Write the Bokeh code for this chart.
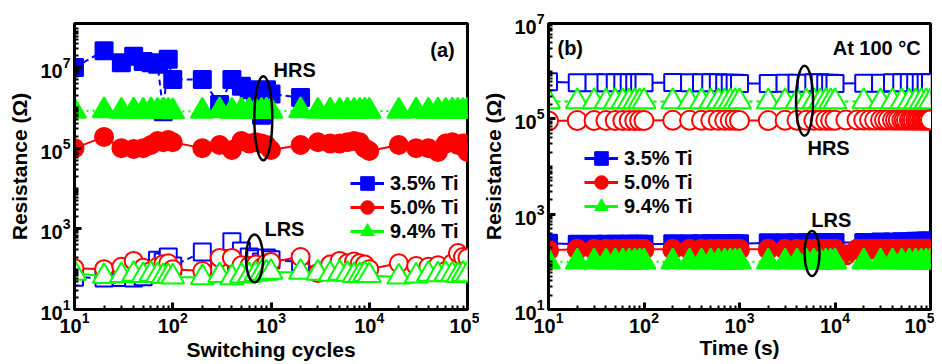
from bokeh.plotting import figure
from bokeh.layouts import row
from bokeh.models import Range1d, FixedTicker, Legend, LegendItem, Label
from bokeh.embed import file_html
from bokeh.resources import INLINE

# ---------------- data: panel (a) resistance vs switching cycles ----------------
cycles = [10, 20, 30, 40, 50, 60, 70, 80, 90,
          100, 200, 300, 400, 500, 600, 700, 800, 900,
          1000, 2000, 3000, 4000, 5000, 6000, 7000, 8000, 9000,
          10000, 20000, 30000, 40000, 50000, 60000, 70000, 80000, 90000, 100000]
cycles_35 = [10, 20, 30, 40, 50, 60, 70, 80, 90,
             100, 200, 300, 400, 500, 600, 700, 800, 900, 1000, 2000]

hrs_35_a = [1.0e7, 2.6e7, 1.3e7, 1.9e7, 1.4e7, 1.3e7, 1.2e7, 8.0e5, 1.6e7,
            5.0e6, 5.0e6, 1.2e6, 5.0e6, 3.4e6, 2.8e6, 1.9e6, 6.5e5, 2.8e6, 2.2e6, 1.8e6]
hrs_50_a = [1.0e5, 1.9e5, 1.0e5, 9.5e4, 1.0e5, 1.2e5, 1.5e5, 1.4e5, 1.6e5,
            1.4e5, 1.0e5, 1.2e5, 9.0e4, 1.5e5, 1.3e5, 1.4e5, 1.3e5, 1.2e5,
            9.0e4, 1.2e5, 1.4e5, 1.3e5, 1.3e5, 1.4e5, 1.5e5, 1.4e5, 1.0e5,
            8.5e4, 1.2e5, 1.0e5, 1.0e5, 8.0e4, 1.3e5, 1.4e5, 1.2e5, 1.3e5, 8.0e4]
hrs_94_a = [8.3e5, 8.5e5, 8.3e5, 8.4e5, 8.3e5, 8.5e5, 8.3e5, 8.4e5, 8.3e5,
            8.1e5, 8.3e5, 8.5e5, 8.3e5, 8.4e5, 8.3e5, 8.2e5, 8.3e5, 8.4e5,
            8.3e5, 8.5e5, 8.3e5, 8.4e5, 8.3e5, 8.4e5, 8.3e5, 8.3e5, 8.4e5,
            8.3e5, 8.3e5, 8.4e5, 8.3e5, 8.4e5, 8.3e5, 8.4e5, 8.3e5, 8.3e5, 8.4e5]
lrs_35_a = [63, 60, 62, 60, 65, 100, 167, 150, 200,
            120, 265, 110, 475, 280, 200, 180, 150, 190, 170, 150]
lrs_50_a = [105, 100, 115, 160, 108, 90, 115, 133, 140,
            100, 90, 190, 190, 125, 120, 130, 110, 140,
            150, 200, 80, 130, 160, 140, 155, 140, 130,
            100, 140, 120, 115, 125, 90, 140, 250, 200, 190]
lrs_94_a = [80, 66, 70, 75, 70, 75, 70, 66, 66,
            64, 62, 70, 62, 68, 70, 75, 80, 80,
            84, 84, 80, 75, 80, 75, 70, 70, 75,
            70, 64, 68, 75, 73, 75, 73, 70, 75, 73]

# ---------------- data: panel (b) retention at 100 C ----------------
time_s = [10, 20, 30, 40, 50, 60, 70, 80, 90,
          100, 200, 300, 400, 500, 600, 700, 800, 900,
          1000, 2000, 3000, 4000, 5000, 6000, 7000, 8000, 9000,
          10000, 20000, 30000, 40000, 50000, 60000, 70000, 80000, 90000, 100000]
time_s_50 = [10, 20, 30, 40, 50, 60, 70, 80, 90,
             100, 200, 300, 400, 500, 600, 700, 800, 900,
             1000, 2000, 3000, 4000, 5000, 6000, 7000, 8000, 9000, 10000,
             13000, 17000, 20000, 23000, 26000, 30000, 33000, 36000, 40000,
             43000, 46000, 50000, 53000, 56000, 60000, 63000, 66000, 70000,
             73000, 76000, 80000, 83000, 86000, 90000, 93000, 96000, 100000]

hrs_35_b = [6.0e5, 5.7e5, 5.7e5, 5.7e5, 5.7e5, 5.7e5, 5.7e5, 5.7e5, 5.7e5,
            5.7e5, 5.8e5, 5.7e5, 5.7e5, 5.7e5, 5.7e5, 5.6e5, 5.6e5, 5.6e5,
            5.5e5, 5.5e5, 5.6e5, 5.6e5, 5.6e5, 5.7e5, 5.7e5, 5.6e5, 5.6e5,
            5.5e5, 5.6e5, 5.6e5, 5.7e5, 5.7e5, 5.7e5, 5.7e5, 5.7e5, 5.7e5, 5.7e5]
hrs_50_b = [9.0e4, 9.2e4, 9.2e4, 9.2e4, 9.2e4, 9.2e4, 9.2e4, 9.2e4, 9.2e4,
            9.2e4, 9.3e4, 9.3e4, 9.3e4, 9.3e4, 9.3e4, 9.3e4, 9.3e4, 9.3e4,
            9.2e4, 9.2e4, 9.3e4, 9.3e4, 9.3e4, 9.3e4, 9.3e4, 9.3e4, 9.3e4, 9.3e4,
            9.5e4, 9.5e4, 9.5e4, 9.4e4, 9.4e4, 9.4e4, 9.4e4, 9.4e4, 9.4e4,
            9.4e4, 9.4e4, 9.4e4, 9.4e4, 9.4e4, 9.4e4, 9.4e4, 9.4e4, 9.4e4,
            9.4e4, 9.4e4, 9.4e4, 9.4e4, 9.4e4, 9.4e4, 9.4e4, 9.4e4, 9.4e4]
hrs_94_b = [2.3e5, 2.3e5, 2.3e5, 2.3e5, 2.3e5, 2.3e5, 2.3e5, 2.3e5, 2.3e5,
            2.3e5, 2.3e5, 2.3e5, 2.3e5, 2.3e5, 2.3e5, 2.3e5, 2.3e5, 2.3e5,
            2.3e5, 2.3e5, 2.3e5, 2.3e5, 2.3e5, 2.3e5, 2.3e5, 2.3e5, 2.3e5,
            2.3e5, 2.3e5, 2.3e5, 2.3e5, 2.3e5, 2.3e5, 2.3e5, 2.3e5, 2.3e5, 2.3e5]
lrs_35_b = [245, 235, 235, 235, 235, 235, 235, 235, 235,
            235, 240, 240, 240, 240, 240, 240, 240, 240,
            240, 250, 250, 250, 250, 250, 255, 255, 255,
            255, 255, 260, 260, 265, 265, 270, 270, 275, 275]
lrs_50_b = [175, 183, 183, 183, 183, 183, 183, 183, 183,
            183, 183, 183, 183, 183, 183, 183, 183, 183,
            183, 183, 183, 183, 183, 183, 183, 183, 183, 183,
            140, 183, 183, 183, 183, 183, 183, 183, 183,
            183, 183, 183, 183, 183, 183, 183, 183, 183,
            183, 183, 183, 183, 183, 183, 183, 183, 183]
lrs_94_b = [100, 100, 100, 100, 100, 100, 100, 100, 100,
            100, 100, 100, 100, 100, 100, 100, 100, 100,
            100, 100, 100, 100, 100, 100, 100, 100, 100,
            100, 100, 100, 100, 100, 100, 100, 100, 100, 100]

series_labels = ["3.5% Ti", "5.0% Ti", "9.4% Ti"]
x_ticks = [10, 100, 1000, 10000, 100000]
y_ticks = [10, 1000, 100000, 10000000]

# annotation anchors (data coordinates)
a_notes = [("(a)", 5.56e4, 2.7e7, "center"), ("HRS", 1740, 8.5e6, "center"),
           ("LRS", 1370, 970, "center")]
b_notes = [("(b)", 16.9, 3.1e6, "center"), ("At 100 \u00b0C", 7.9e4, 3.1e6, "right"),
           ("HRS", 8560, 2.5e4, "center"), ("LRS", 9150, 745, "center")]
a_ellipses = [(835, 5.5e5, 18, 84), (680, 185, 17, 48)]
b_ellipses = [(4800, 2.4e5, 17, 70), (5750, 150, 15, 45)]

FONT = "Liberation Sans"
BLUE, RED, GREEN = "#0000FF", "#FF0000", "#00FF00"

minor_x = [m * 10 ** d for d in range(1, 5) for m in range(2, 10)]
minor_y = [m * 10 ** d for d in range(1, 8) for m in range(1, 10) if not (m == 1 and d % 2 == 1)]

NAN = float("nan")


def make_fig(y_top, b_left, b_right, width, xlabel, xlab_standoff):
    p = figure(x_axis_type="log", y_axis_type="log",
               x_range=Range1d(10, 1e5), y_range=Range1d(10, y_top),
               width=width, height=364, output_backend="svg", toolbar_location=None,
               min_border_left=b_left, min_border_right=b_right,
               min_border_top=23, min_border_bottom=55)
    p.grid.visible = False
    p.outline_line_color = "black"
    p.outline_line_width = 3
    p.outline_line_alpha = 1
    p.xaxis.ticker = FixedTicker(ticks=x_ticks, minor_ticks=minor_x)
    p.yaxis.ticker = FixedTicker(ticks=y_ticks, minor_ticks=minor_y)
    for ax in [p.xaxis[0], p.yaxis[0]]:
        ax.axis_line_width = 3
        ax.major_tick_in = 7
        ax.major_tick_out = 0
        ax.minor_tick_in = 4
        ax.minor_tick_out = 0
        ax.major_tick_line_width = 3
        ax.minor_tick_line_width = 2
        ax.major_label_text_font = FONT
        ax.major_label_text_font_size = "20px"
        ax.major_label_text_font_style = "bold"
        ax.major_label_text_color = "black"
        ax.axis_label_text_font = FONT
        ax.axis_label_text_font_style = "bold"
        ax.axis_label_text_color = "black"
    p.xaxis[0].major_label_standoff = 2
    p.yaxis[0].major_label_standoff = 4
    p.xaxis[0].axis_label = xlabel
    p.xaxis[0].axis_label_text_font_size = "21px"
    p.xaxis[0].axis_label_standoff = xlab_standoff
    p.yaxis[0].axis_label = "Resistance (\u03a9)"
    p.yaxis[0].axis_label_text_font_size = "21px"
    p.yaxis[0].axis_label_standoff = 6
    return p


def draw_series(p, x, y, color, marker, size, filled, dash):
    p.line(x, y, line_color=color, line_width=2, line_dash=dash)
    p.scatter(x, y, marker=marker, size=size, line_color=color, line_width=2,
              fill_color=color if filled else "white")


def add_legend(p, xoff, row_offsets):
    for lab, col, mk, yoff in zip(series_labels, [BLUE, RED, GREEN],
                                  ["square", "circle", "triangle"], row_offsets):
        rl = p.line(x=[NAN], y=[NAN], line_color=col, line_width=3)
        rm = p.scatter(x=[NAN], y=[NAN], marker=mk, size=15, line_color=col, fill_color=col)
        leg = Legend(items=[LegendItem(label=lab, renderers=[rl, rm])],
                     location=(xoff, yoff), orientation="vertical",
                     glyph_width=34, glyph_height=40, label_height=20, spacing=0,
                     padding=0, margin=0, label_standoff=6,
                     border_line_alpha=0, background_fill_alpha=0,
                     label_text_font=FONT, label_text_font_size="20px",
                     label_text_font_style="bold", label_text_color="black")
        p.add_layout(leg)


def add_notes(p, notes, ellipses):
    for txt, x, y, align in notes:
        p.add_layout(Label(x=x, y=y, text=txt, text_align=align, text_baseline="middle",
                           text_font=FONT, text_font_size="20px", text_font_style="bold",
                           text_color="black"))
    for x, y, w, h in ellipses:
        p.ellipse(x=[x], y=[y], width=w, height=h, width_units="screen", height_units="screen",
                  fill_color=None, line_color="black", line_width=2.5)


# ---------------- panel (a) ----------------
pa = make_fig(1.23e8, 74, 12, 479, "Switching cycles", 2)
draw_series(pa, cycles_35, hrs_35_a, BLUE, "square", 17, True, "6 4")
draw_series(pa, cycles, hrs_50_a, RED, "circle", 18, True, "solid")
draw_series(pa, cycles, hrs_94_a, GREEN, "triangle", 23, True, "2 4")
draw_series(pa, cycles_35, lrs_35_a, BLUE, "square", 17, False, "6 4")
draw_series(pa, cycles, lrs_50_a, RED, "circle", 18, False, "solid")
draw_series(pa, cycles, lrs_94_a, GREEN, "triangle", 23, False, "solid")
add_notes(pa, a_notes, a_ellipses)
add_legend(pa, 276, [106, 82, 58])

# ---------------- panel (b) ----------------
pb = make_fig(1e7, 65, 4, 455, "Time (s)", 0)
draw_series(pb, time_s, hrs_35_b, BLUE, "square", 17, False, "solid")
draw_series(pb, time_s_50, hrs_50_b, RED, "circle", 19, False, "solid")
draw_series(pb, time_s, hrs_94_b, GREEN, "triangle", 23, False, "4 4")
draw_series(pb, time_s, lrs_35_b, BLUE, "square", 17, True, "solid")
draw_series(pb, time_s_50, lrs_50_b, RED, "circle", 19, True, "solid")
draw_series(pb, time_s, lrs_94_b, GREEN, "triangle", 23, True, "2 4")
add_notes(pb, b_notes, b_ellipses)
add_legend(pb, 36, [131, 107, 83])

layout = row(pa, pb)
open("out.html", "w").write(file_html(layout, INLINE))
